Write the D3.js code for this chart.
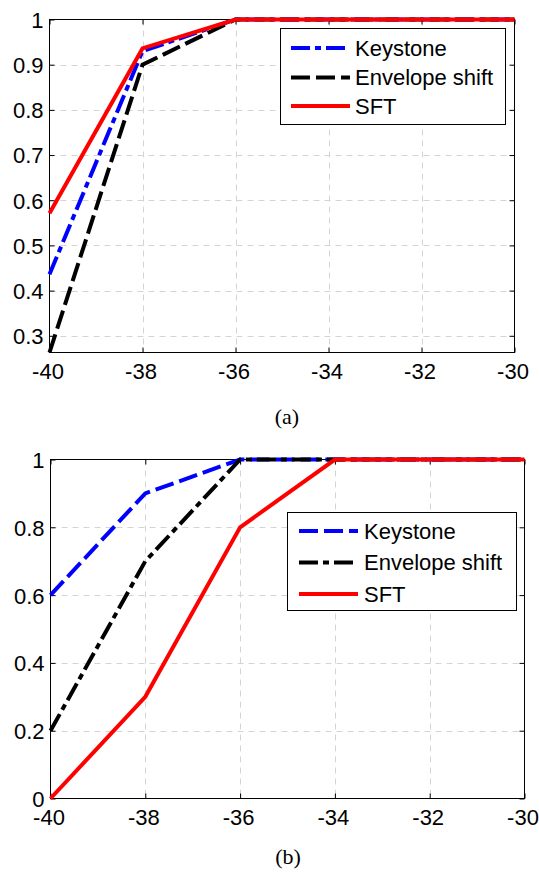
<!DOCTYPE html>
<html>
<head>
<meta charset="utf-8">
<script src="https://cdn.jsdelivr.net/npm/d3@7"></script>
<style>
  html, body { margin: 0; padding: 0; background: #fff; }
  svg { display: block; }
</style>
</head>
<body>
<svg id="chart" width="539" height="873"></svg>
<script>
// SNR values on the horizontal axis
const snr = [-40, -38, -36, -34, -32, -30];

// Panel (a): detection probability
const keystoneA = [0.436, 0.93, 1, 1, 1, 1];
const envelopeA = [0.263, 0.9, 1, 1, 1, 1];
const sftA      = [0.571, 0.936, 1, 1, 1, 1];

// Panel (b): detection probability
const keystoneB = [0.6, 0.9, 1, 1, 1, 1];
const envelopeB = [0.2, 0.7, 1, 1, 1, 1];
const sftB      = [0, 0.3, 0.8, 1, 1, 1];

// Tick values and labels
const xTicks = [-40, -38, -36, -34, -32, -30];
const xTickLabels = ["-40", "-38", "-36", "-34", "-32", "-30"];
const yTicksA = [0.3, 0.4, 0.5, 0.6, 0.7, 0.8, 0.9, 1];
const yTickLabelsA = ["0.3", "0.4", "0.5", "0.6", "0.7", "0.8", "0.9", "1"];
const yTicksB = [0, 0.2, 0.4, 0.6, 0.8, 1];
const yTickLabelsB = ["0", "0.2", "0.4", "0.6", "0.8", "1"];

const seriesNames = ["Keystone", "Envelope shift", "SFT"];
const captions = ["(a)", "(b)"];

const svg = d3.select("#chart");
const FONT = "'Liberation Sans', Arial, Helvetica, sans-serif";

const DASH = "19,6";
const DASHDOT = "19,5,6,5";

function panel(cfg) {
  const x = d3.scaleLinear().domain([-40, -30]).range([cfg.left, cfg.right]);
  const y = d3.scaleLinear().domain(cfg.yDomain).range([cfg.bottom, cfg.top]);
  const g = svg.append("g");

  // dashed grid
  const grid = g.append("g").attr("stroke", "#d4d4d4").attr("stroke-width", 1)
    .attr("stroke-dasharray", "6,5");
  xTicks.slice(1, -1).forEach(v => {
    grid.append("line").attr("x1", Math.round(x(v)) + 0.5).attr("x2", Math.round(x(v)) + 0.5)
      .attr("y1", cfg.top).attr("y2", cfg.bottom);
  });
  cfg.yTicks.forEach(v => {
    if (v === cfg.yDomain[1] || v === cfg.yDomain[0]) return;
    grid.append("line").attr("y1", Math.round(y(v)) + 0.5).attr("y2", Math.round(y(v)) + 0.5)
      .attr("x1", cfg.left).attr("x2", cfg.right);
  });

  // axes with inward ticks on all four sides
  const tl = 5;
  const axB = d3.axisBottom(x).tickValues(xTicks).tickSize(-tl).tickPadding(tl + 8)
    .tickFormat((d, i) => xTickLabels[i]);
  const axT = d3.axisTop(x).tickValues(xTicks).tickSize(-tl).tickFormat("");
  const axL = d3.axisLeft(y).tickValues(cfg.yTicks).tickSize(-tl).tickPadding(6)
    .tickFormat((d, i) => cfg.yLabels[i]);
  const axR = d3.axisRight(y).tickValues(cfg.yTicks).tickSize(-tl).tickFormat("");

  const gb = g.append("g").attr("transform", `translate(0,${cfg.bottom})`).call(axB);
  const gt = g.append("g").attr("transform", `translate(0,${cfg.top})`).call(axT);
  const gl = g.append("g").attr("transform", `translate(${cfg.left},0)`).call(axL);
  const gr = g.append("g").attr("transform", `translate(${cfg.right},0)`).call(axR);
  [gb, gt, gl, gr].forEach(a => {
    a.select(".domain").remove();
    a.selectAll("line").attr("stroke", "#000");
    a.selectAll("text").attr("font-family", FONT).attr("font-size", 22).attr("fill", "#000");
  });
  gb.selectAll("text").attr("dy", null).attr("y", 26.5).attr("dx", -2);
  gl.selectAll("text").attr("dy", "0.36em");

  // box
  g.append("rect").attr("x", cfg.left).attr("y", cfg.top)
    .attr("width", cfg.right - cfg.left).attr("height", cfg.bottom - cfg.top)
    .attr("fill", "none").attr("stroke", "#000").attr("stroke-width", 1);

  // data lines
  const line = d3.line().x((d, i) => x(snr[i])).y(d => y(d));
  cfg.series.forEach(s => {
    g.append("path").datum(s.values).attr("d", line)
      .attr("fill", "none").attr("stroke", s.color).attr("stroke-width", 4)
      .attr("stroke-dasharray", s.dash).attr("stroke-linejoin", "miter");
  });

  // legend
  const L = cfg.legend;
  g.append("rect").attr("x", L.x0).attr("y", L.y0).attr("width", L.x1 - L.x0)
    .attr("height", L.y1 - L.y0).attr("fill", "#fff").attr("stroke", "#000").attr("stroke-width", 1);
  cfg.series.forEach((s, i) => {
    const cy = L.rows[i];
    g.append("line").attr("x1", L.lx0).attr("x2", L.lx1).attr("y1", cy).attr("y2", cy)
      .attr("stroke", s.color).attr("stroke-width", 4).attr("stroke-dasharray", s.dash);
    g.append("text").attr("x", L.tx).attr("y", cy).attr("dy", "0.36em")
      .attr("font-family", FONT).attr("font-size", 22).attr("fill", "#000")
      .text(seriesNames[i]);
  });

  // caption
  svg.append("text").attr("x", cfg.capX).attr("y", cfg.capY).attr("text-anchor", "middle")
    .attr("font-family", "'Liberation Serif', 'Times New Roman', serif").attr("font-size", 22)
    .attr("fill", "#000").text(cfg.caption);
}

panel({
  left: 49.5, right: 514.5, top: 19.5, bottom: 352.5,
  yDomain: [0.263, 1], yTicks: yTicksA, yLabels: yTickLabelsA,
  series: [
    { values: keystoneA, color: "#0000ff", dash: DASHDOT },
    { values: envelopeA, color: "#000000", dash: DASH },
    { values: sftA, color: "#ff0000", dash: null }
  ],
  legend: { x0: 280.5, x1: 505.5, y0: 28.5, y1: 124.5, lx0: 291, lx1: 350, tx: 355, rows: [48, 77.5, 106] },
  caption: captions[0], capX: 287, capY: 423.5
});

panel({
  left: 50.5, right: 524.5, top: 459.5, bottom: 798.5,
  yDomain: [0, 1], yTicks: yTicksB, yLabels: yTickLabelsB,
  series: [
    { values: keystoneB, color: "#0000ff", dash: DASH },
    { values: envelopeB, color: "#000000", dash: DASHDOT },
    { values: sftB, color: "#ff0000", dash: null }
  ],
  legend: { x0: 287.5, x1: 516.5, y0: 512.5, y1: 610.5, lx0: 299, lx1: 358, tx: 364, rows: [531, 562.5, 594] },
  caption: captions[1], capX: 288, capY: 864
});
</script>
</body>
</html>
